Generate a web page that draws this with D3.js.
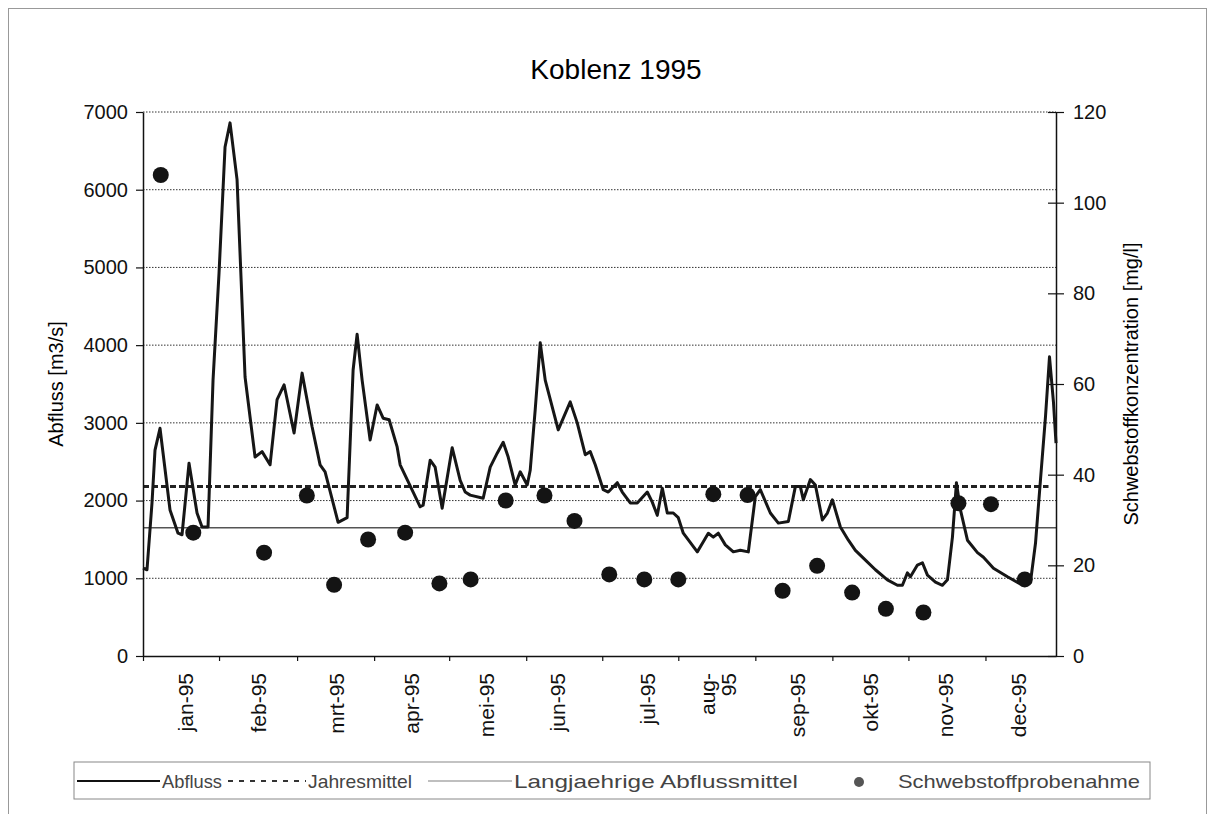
<!DOCTYPE html>
<html>
<head>
<meta charset="utf-8">
<script src="https://cdn.jsdelivr.net/npm/d3@7/dist/d3.min.js"></script>
<style>
  body { margin: 0; background: #fff; }
  svg { display: block; font-family: "Liberation Sans", Arial, sans-serif; }
</style>
</head>
<body>
<div id="myChart"></div>
<script>
// Abfluss Koblenz 1995, day of year -> m3/s
const flowDays = [0, 1.6, 3.6, 4.8, 6.8, 10.8, 14, 15.6, 18.4, 21.6, 23.6, 26, 28, 30.4, 32.8, 34.8, 37.6, 40.8,
    44.8, 47.6, 50.8, 53.6, 56.4, 60.4, 63.6, 67.6, 70.8, 72.8, 78, 81.6, 84, 85.6, 87.6, 90.8, 93.6, 96, 98.4,
    101.6, 102.8, 108, 110.8, 112, 114.8, 116.8, 119.6, 123.6, 126.8, 128.8, 130.8, 136, 138.8, 141.6, 144, 146,
    148.8, 150.8, 153.6, 154.8, 156.8, 158, 158.8, 160.8, 166, 170.8, 173.6, 176.8, 178.8, 180.8, 184, 186, 189.6,
    191.6, 194.8, 197.6, 201.6, 203.6, 205.6, 207.6, 209.6, 212, 214, 216, 221.6, 224, 226, 228, 230, 232.8, 236,
    238.8, 242, 244.8, 246.8, 250.8, 254, 258, 260.8, 262.8, 264, 266.8, 268.8, 271.6, 273.6, 275.6, 278.8, 282,
    284.8, 288, 292.8, 297.6, 301.6, 303.6, 305.6, 306.8, 309.6, 311.6, 313.6, 316.8, 319.6, 321.6, 323.6, 325.2,
    326.8, 329.6, 333.6, 336, 340, 345.6, 350, 354.8, 356.8, 358.8, 360.8, 362.4, 364, 365];
const flowValues = [1130, 1110, 1970, 2650, 2930, 1880, 1580, 1560, 2480, 1840, 1660, 1660, 3550, 4930, 6550, 6860, 6130, 3590,
    2560, 2630, 2460, 3300, 3490, 2870, 3640, 2950, 2460, 2370, 1720, 1780, 3680, 4140, 3550, 2780, 3230, 3060, 3040,
    2690, 2460, 2110, 1920, 1940, 2520, 2430, 1900, 2680, 2260, 2110, 2070, 2030, 2430, 2610, 2750, 2560,
    2200, 2370, 2200, 2390, 3170, 3680, 4030, 3550, 2910, 3270, 3000, 2590, 2630, 2460, 2140, 2110, 2230,
    2110, 1970, 1970, 2110, 1980, 1810, 2160, 1840, 1840, 1780, 1580, 1340, 1470, 1580, 1530, 1580, 1430, 1340,
    1360, 1340, 2050, 2140, 1840, 1710, 1730, 2180, 2180, 2010, 2270, 2200, 1750, 1840, 2010, 1660, 1490,
    1360, 1260, 1110, 980, 910, 910, 1070, 1020, 1170, 1200, 1040, 950, 910, 980, 1530, 2230,
    1880, 1490, 1330, 1270, 1130, 1020, 940, 950, 1450, 2270, 3080, 3850, 3260, 2740];

// Schwebstoffprobenahme, day of year -> mg/l
const sampleDays = [7.1, 20.1, 48.4, 65.5, 76.4, 90, 104.8, 118.5, 131, 145, 160.5, 172.5, 186.4, 200.4, 214,
    228, 241.7, 255.7, 269.5, 283.5, 297, 312, 326, 339, 352.5];
const sampleValues = [106.1, 27.2, 22.8, 35.4, 15.7, 25.7, 27.2, 16.0, 16.9, 34.3, 35.4, 29.8, 18.0, 16.9, 16.9,
    35.7, 35.5, 14.4, 19.9, 14.0, 10.4, 9.6, 33.7, 33.5, 16.9];

const jahresmittel = 2180;
const langjaehrigesMittel = 1650;

const leftTicks = [0, 1000, 2000, 3000, 4000, 5000, 6000, 7000];
const rightTicks = [0, 20, 40, 60, 80, 100, 120];
const monthTickDays = [0, 30.4, 61.6, 92.4, 122.4, 153.2, 183.6, 214, 244.8, 275.6, 306, 336.8];
const monthLabelDays = [17.2, 46.4, 77.6, 107.2, 137.2, 165.6, 201.6, 230, 261.6, 290.8, 320.8, 350];
const monthLabels = ["jan-95", "feb-95", "mrt-95", "apr-95", "mei-95", "jun-95", "jul-95", "aug-\n95",
    "sep-95", "okt-95", "nov-95", "dec-95"];

const legendItems = ["Abfluss", "Jahresmittel", "Langjaehrige Abflussmittel", "Schwebstoffprobenahme"];

const size = {
    width: 1215,
    height: 814,
    plot: { left: 143, right: 1056, top: 112, bottom: 656 },
    legend: {
        x: 74, y: 762, width: 1076, height: 37,
        textX: [162, 308, 514, 898],
        textWidth: [60, 104, 284, 242]
    }
};

const drawChart = function(size) {
    const svg = d3.select("#myChart")
    .append("svg")
    .attr("width", size.width)
    .attr("height", size.height);

    // scanned page frame
    svg.append("rect")
    .attr("x", 8.5).attr("y", 8.5)
    .attr("width", 1198).attr("height", 820)
    .attr("fill", "none")
    .attr("stroke", "#999");

    const p = size.plot;
    const x = d3.scaleLinear().domain([0, 365]).range([p.left, p.right]);
    const yLeft = d3.scaleLinear().domain([0, 7000]).range([p.bottom, p.top]);
    const yRight = d3.scaleLinear().domain([0, 120]).range([p.bottom, p.top]);

    // title
    svg.append("text")
    .attr("x", 616).attr("y", 79)
    .attr("text-anchor", "middle")
    .style("font-size", "28px")
    .text("Koblenz 1995");

    // gridlines
    svg.append("g")
    .selectAll("line")
    .data(leftTicks.filter(d => d > 0))
    .enter().append("line")
    .attr("x1", p.left).attr("x2", p.right)
    .attr("y1", d => yLeft(d)).attr("y2", d => yLeft(d))
    .attr("stroke", "#333")
    .attr("stroke-width", 1)
    .attr("stroke-dasharray", "1.5,1.5");

    // reference lines
    svg.append("line")
    .attr("x1", p.left).attr("x2", p.right)
    .attr("y1", yLeft(langjaehrigesMittel)).attr("y2", yLeft(langjaehrigesMittel))
    .attr("stroke", "#555")
    .attr("stroke-width", 1.5);

    svg.append("line")
    .attr("x1", p.left).attr("x2", x(362))
    .attr("y1", yLeft(jahresmittel)).attr("y2", yLeft(jahresmittel))
    .attr("stroke", "#222")
    .attr("stroke-width", 3)
    .attr("stroke-dasharray", "6,3");

    // axes
    const axisLeft = svg.append("g")
    .attr("transform", `translate(${p.left},0)`)
    .call(d3.axisLeft(yLeft).tickValues(leftTicks).tickFormat(d3.format("d"))
        .tickSize(7).tickPadding(8).tickSizeOuter(0));

    const axisRight = svg.append("g")
    .attr("transform", `translate(${p.right},0)`)
    .call(d3.axisRight(yRight).tickValues(rightTicks).tickFormat(d3.format("d"))
        .tickSize(8).tickPadding(9).tickSizeOuter(0));
    axisRight.selectAll(".tick line").attr("x1", -8);

    const axisBottom = svg.append("g")
    .attr("transform", `translate(0,${p.bottom})`)
    .call(d3.axisBottom(x).tickValues(monthTickDays).tickSize(5).tickSizeOuter(0).tickFormat(""));

    [axisLeft, axisRight, axisBottom].forEach(g => {
        g.select(".domain").attr("stroke", "#111").attr("stroke-width", 1.5);
        g.selectAll(".tick line").attr("stroke", "#111").attr("stroke-width", 1.2);
        g.selectAll("text")
        .attr("fill", "#111")
        .style("font-size", "20px")
        .style("font-family", "'Liberation Sans', Arial, sans-serif");
    });

    // month labels, rotated
    const labels = svg.append("g");
    monthLabels.forEach((label, i) => {
        const lines = label.split("\n");
        lines.forEach((line, j) => {
            const cx = x(monthLabelDays[i]) + (j - (lines.length - 1) / 2) * 21;
            labels.append("text")
            .attr("transform", `translate(${cx},${p.bottom + 17}) rotate(-90)`)
            .attr("text-anchor", "end")
            .attr("dy", "0.35em")
            .attr("fill", "#111")
            .style("font-size", "21px")
            .text(line);
        });
    });

    // axis titles
    svg.append("text")
    .attr("transform", `translate(56,${(p.top + p.bottom) / 2}) rotate(-90)`)
    .attr("text-anchor", "middle")
    .attr("dy", "0.35em")
    .style("font-size", "20px")
    .text("Abfluss [m3/s]");

    svg.append("text")
    .attr("transform", `translate(1131,${(p.top + p.bottom) / 2}) rotate(-90)`)
    .attr("text-anchor", "middle")
    .attr("dy", "0.35em")
    .style("font-size", "20px")
    .text("Schwebstoffkonzentration [mg/l]");

    // Abfluss line
    const line = d3.line()
    .x(d => x(d[0]))
    .y(d => yLeft(d[1]));

    svg.append("path")
    .datum(flowDays.map((d, i) => [d, flowValues[i]]))
    .attr("d", line)
    .attr("fill", "none")
    .attr("stroke", "#161616")
    .attr("stroke-width", 3)
    .attr("stroke-linejoin", "round");

    // samples
    svg.append("g")
    .selectAll("circle")
    .data(sampleDays.map((d, i) => [d, sampleValues[i]]))
    .enter().append("circle")
    .attr("cx", d => x(d[0]))
    .attr("cy", d => yRight(d[1]))
    .attr("r", 8)
    .attr("fill", "#141414");

    // legend
    const lg = size.legend;
    const legend = svg.append("g").classed("legend", true);
    legend.append("rect")
    .attr("x", lg.x).attr("y", lg.y)
    .attr("width", lg.width).attr("height", lg.height)
    .attr("fill", "#fff")
    .attr("stroke", "#888");

    const ly = lg.y + 19;
    legend.append("line")
    .attr("x1", 77).attr("x2", 160).attr("y1", ly).attr("y2", ly)
    .attr("stroke", "#111").attr("stroke-width", 2);
    legend.append("line")
    .attr("x1", 228).attr("x2", 306).attr("y1", ly).attr("y2", ly)
    .attr("stroke", "#333").attr("stroke-width", 2).attr("stroke-dasharray", "5,6");
    legend.append("line")
    .attr("x1", 428).attr("x2", 512).attr("y1", ly).attr("y2", ly)
    .attr("stroke", "#aaa").attr("stroke-width", 1.5);
    legend.append("circle")
    .attr("cx", 859).attr("cy", ly + 1).attr("r", 5)
    .attr("fill", "#555");

    legend.selectAll("text.item")
    .data(legendItems)
    .enter().append("text")
    .attr("class", "item")
    .attr("x", (d, i) => lg.textX[i])
    .attr("y", ly)
    .attr("dy", "0.35em")
    .attr("textLength", (d, i) => lg.textWidth[i])
    .attr("lengthAdjust", "spacingAndGlyphs")
    .attr("fill", "#444")
    .style("font-size", "19px")
    .text(d => d);
};

window.onload = () => {
    drawChart(size);
};
</script>
</body>
</html>
